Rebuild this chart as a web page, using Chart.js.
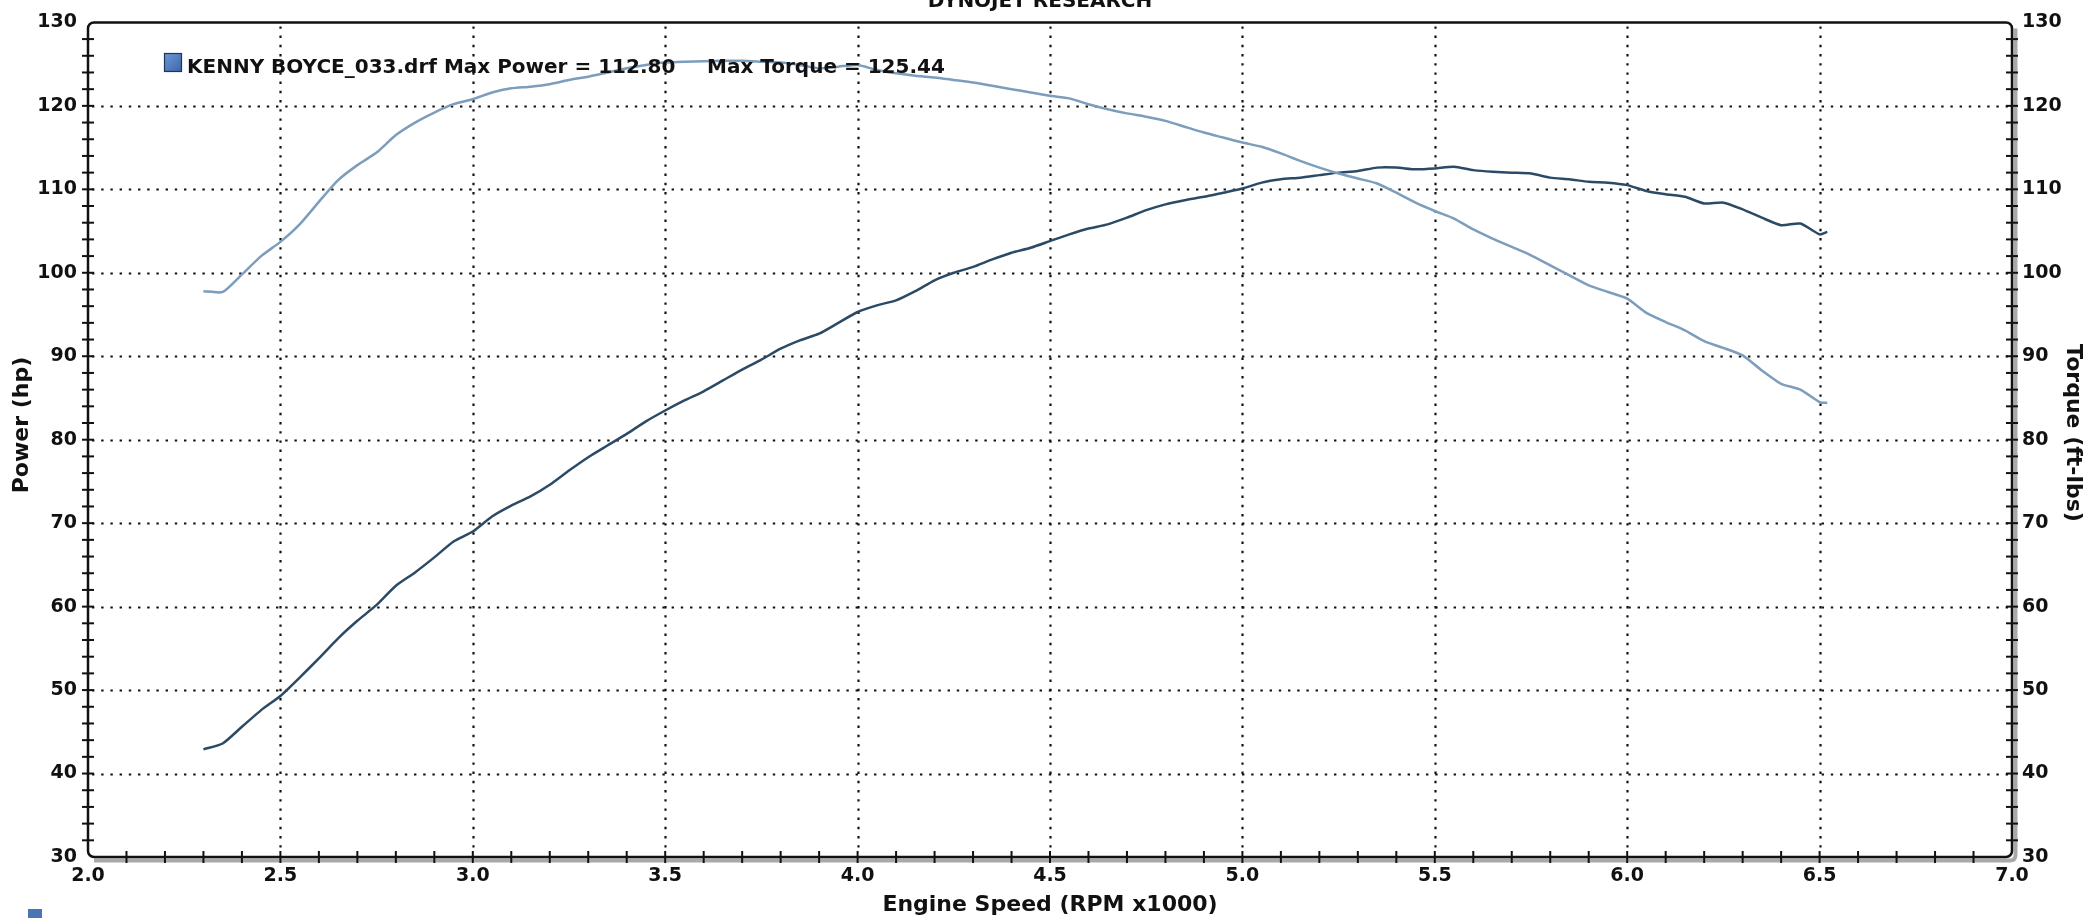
<!DOCTYPE html>
<html>
<head>
<meta charset="utf-8">
<script src="https://cdn.jsdelivr.net/npm/chart.js@4.4.1/dist/chart.umd.min.js"></script>
<style>
html,body{margin:0;padding:0;background:#fff;overflow:hidden}
canvas{display:block}
</style>
</head>
<body>
<canvas id="c" width="2091" height="918"></canvas>
<script>
// ---- data ----
const rpm = [2.30,2.35,2.40,2.45,2.50,2.55,2.60,2.65,2.70,2.75,2.80,2.85,2.90,2.95,3.00,3.05,3.10,3.15,3.20,3.25,3.30,3.35,3.40,3.45,3.50,3.55,3.60,3.65,3.70,3.75,3.80,3.85,3.90,3.95,4.00,4.05,4.10,4.15,4.20,4.25,4.30,4.35,4.40,4.45,4.50,4.55,4.60,4.65,4.70,4.75,4.80,4.85,4.90,4.95,5.00,5.05,5.10,5.15,5.20,5.25,5.30,5.35,5.40,5.45,5.50,5.55,5.60,5.65,5.70,5.75,5.80,5.85,5.90,5.95,6.00,6.05,6.10,6.15,6.20,6.25,6.30,6.35,6.40,6.45,6.50,6.52];
const powerHp = [42.9,43.6,45.6,47.6,49.3,51.5,53.8,56.2,58.3,60.2,62.5,64.1,65.9,67.8,69.0,70.8,72.1,73.2,74.6,76.3,77.9,79.3,80.7,82.2,83.5,84.7,85.8,87.1,88.4,89.6,90.9,91.9,92.7,94.0,95.3,96.1,96.7,97.8,99.1,100.0,100.7,101.6,102.4,103.0,103.8,104.6,105.3,105.8,106.6,107.5,108.2,108.7,109.1,109.6,110.1,110.8,111.2,111.4,111.7,112.0,112.2,112.6,112.6,112.4,112.5,112.7,112.3,112.1,112.0,111.9,111.4,111.2,110.9,110.8,110.5,109.8,109.4,109.1,108.3,108.4,107.6,106.6,105.7,105.9,104.6,104.9];
const torqueFtLbs = [97.8,97.7,99.8,102.0,103.7,105.8,108.5,111.1,112.9,114.4,116.5,118.0,119.2,120.2,120.8,121.6,122.1,122.3,122.6,123.1,123.5,124.0,124.5,124.9,125.2,125.3,125.35,125.4,125.4,125.3,125.2,124.9,124.5,124.7,124.9,124.3,123.9,123.6,123.4,123.1,122.8,122.4,122.0,121.6,121.2,120.9,120.2,119.6,119.1,118.7,118.2,117.5,116.8,116.2,115.6,115.1,114.3,113.4,112.6,111.9,111.3,110.7,109.6,108.4,107.4,106.5,105.2,104.1,103.1,102.1,100.9,99.7,98.5,97.7,96.9,95.2,94.1,93.1,91.8,91.0,90.1,88.3,86.7,86.0,84.5,84.4];
const xTickValues = [2.0,2.5,3.0,3.5,4.0,4.5,5.0,5.5,6.0,6.5,7.0];
const yTickValues = [30,40,50,60,70,80,90,100,110,120,130];
const chartTitle = 'DYNOJET RESEARCH';
const legendRun = 'KENNY BOYCE_033.drf Max Power = 112.80';
const legendTorque = 'Max Torque = 125.44';
const xTitle = 'Engine Speed (RPM x1000)';
const yTitle = 'Power (hp)';
const y2Title = 'Torque (ft-lbs)';

const FONT = '"DejaVu Sans", Verdana, sans-serif';
const POWER_COLOR = '#2b4a66';
const TORQUE_COLOR = '#7c9dbc';

const decor = {
  id: 'decor',
  beforeDatasetsDraw(chart) {
    const ctx = chart.ctx;
    const {left, right, top, bottom} = chart.chartArea;
    const xs = chart.scales.x, ys = chart.scales.y;
    ctx.save();
    ctx.strokeStyle = '#111';
    ctx.lineWidth = 2.2;
    ctx.setLineDash([2.4, 6.8]);
    yTickValues.forEach(v => {
      if (v <= ys.min || v >= ys.max) return;
      const y = Math.round(ys.getPixelForValue(v)) + 0.5;
      ctx.beginPath(); ctx.moveTo(left + 4, y); ctx.lineTo(right - 4, y); ctx.stroke();
    });
    xTickValues.forEach(v => {
      if (v <= xs.min || v >= xs.max) return;
      const x = Math.round(xs.getPixelForValue(v)) + 0.5;
      ctx.beginPath(); ctx.moveTo(x, top + 4); ctx.lineTo(x, bottom - 4); ctx.stroke();
    });
    ctx.restore();
  },
  afterDatasetsDraw(chart) {
    const ctx = chart.ctx;
    const {left, right, top, bottom} = chart.chartArea;
    const xs = chart.scales.x, ys = chart.scales.y;
    ctx.save();
    ctx.strokeStyle = '#a9a9a9';
    ctx.lineWidth = 4;
    ctx.beginPath();
    ctx.moveTo(left + 6, bottom + 3.5);
    ctx.lineTo(right - 2, bottom + 3.5);
    ctx.quadraticCurveTo(right + 3.5, bottom + 3.5, right + 3.5, bottom - 2);
    ctx.lineTo(right + 3.5, top + 6);
    ctx.stroke();
    ctx.strokeStyle = '#111';
    ctx.lineWidth = 2.5;
    ctx.beginPath();
    ctx.roundRect(left, top, right - left, bottom - top, 6);
    ctx.stroke();
    ctx.lineWidth = 2;
    for (let v = ys.min; v <= ys.max + 0.001; v += 2) {
      const y = ys.getPixelForValue(v);
      if (v > ys.min && v < ys.max) {
        ctx.beginPath(); ctx.moveTo(left - 6, y); ctx.lineTo(left + 6, y); ctx.stroke();
        ctx.beginPath(); ctx.moveTo(right - 6, y); ctx.lineTo(right + 6, y); ctx.stroke();
      }
    }
    for (let i = 1; i < 50; i++) {
      const v = xs.min + i * 0.1;
      const x = xs.getPixelForValue(v);
      ctx.beginPath(); ctx.moveTo(x, bottom - 6); ctx.lineTo(x, bottom + 6); ctx.stroke();
    }
    ctx.restore();
  },
  afterDraw(chart) {
    const ctx = chart.ctx;
    const {left, right, top, bottom} = chart.chartArea;
    ctx.save();
    ctx.fillStyle = '#111';
    ctx.font = 'bold 20px ' + FONT;
    ctx.textAlign = 'center';
    ctx.textBaseline = 'alphabetic';
    ctx.fillText(chartTitle, 1040, 7);
    const grad = ctx.createLinearGradient(164, 53, 182, 72);
    grad.addColorStop(0, '#6f9ad6');
    grad.addColorStop(1, '#3a64a8');
    ctx.fillStyle = grad;
    ctx.fillRect(164, 53, 18, 19);
    ctx.strokeStyle = '#1d3557';
    ctx.lineWidth = 1.2;
    ctx.strokeRect(164.5, 53.5, 17, 18);
    ctx.fillStyle = '#111';
    ctx.font = 'bold 20px ' + FONT;
    ctx.textAlign = 'left';
    ctx.fillText(legendRun, 187, 73);
    ctx.fillText(legendTorque, 707, 73);
    ctx.font = 'bold 22px ' + FONT;
    ctx.textAlign = 'center';
    ctx.textBaseline = 'middle';
    ctx.fillText(xTitle, (left + right) / 2, 905);
    ctx.save();
    ctx.translate(22, 425);
    ctx.rotate(-Math.PI / 2);
    ctx.fillText(yTitle, 0, 0);
    ctx.restore();
    ctx.save();
    ctx.translate(2073, 433);
    ctx.rotate(Math.PI / 2);
    ctx.fillText(y2Title, 0, 0);
    ctx.restore();
    ctx.fillStyle = '#4a74b4';
    ctx.fillRect(28, 909, 14, 14);
    ctx.restore();
  }
};

const tickFont = {family: FONT, size: 19, weight: 'bold'};

new Chart(document.getElementById('c'), {
  type: 'line',
  data: {
    datasets: [
      {
        label: 'Torque',
        data: rpm.map((r, i) => ({x: r, y: torqueFtLbs[i]})),
        yAxisID: 'y2',
        borderColor: TORQUE_COLOR,
        borderWidth: 2.5,
        pointRadius: 0,
        tension: 0.2,
        fill: false
      },
      {
        label: 'Power',
        data: rpm.map((r, i) => ({x: r, y: powerHp[i]})),
        yAxisID: 'y',
        borderColor: POWER_COLOR,
        borderWidth: 2.5,
        pointRadius: 0,
        tension: 0.2,
        fill: false
      }
    ]
  },
  options: {
    responsive: false,
    animation: false,
    devicePixelRatio: 1,
    layout: {padding: {top: 13, left: 0, right: 0, bottom: 0}},
    plugins: {legend: {display: false}, tooltip: {enabled: false}, title: {display: false}},
    scales: {
      x: {
        type: 'linear', min: 2, max: 7,
        afterBuildTicks: s => { s.ticks = xTickValues.map(v => ({value: v})); },
        afterFit: s => { s.height = 61; },
        ticks: {callback: v => Number(v).toFixed(1), font: tickFont, color: '#111', padding: 8, maxRotation: 0, autoSkip: false},
        grid: {display: false, drawTicks: false},
        border: {display: false}
      },
      y: {
        type: 'linear', position: 'left', min: 30, max: 130,
        afterBuildTicks: s => { s.ticks = yTickValues.map(v => ({value: v})); },
        afterFit: s => { s.width = 88; },
        ticks: {font: tickFont, color: '#111', padding: 11, autoSkip: false},
        grid: {display: false, drawTicks: false},
        border: {display: false}
      },
      y2: {
        type: 'linear', position: 'right', min: 30, max: 130,
        afterBuildTicks: s => { s.ticks = yTickValues.map(v => ({value: v})); },
        afterFit: s => { s.width = 79; },
        ticks: {font: tickFont, color: '#111', padding: 10, autoSkip: false},
        grid: {display: false, drawTicks: false},
        border: {display: false}
      }
    }
  },
  plugins: [decor]
});
</script>
</body>
</html>
